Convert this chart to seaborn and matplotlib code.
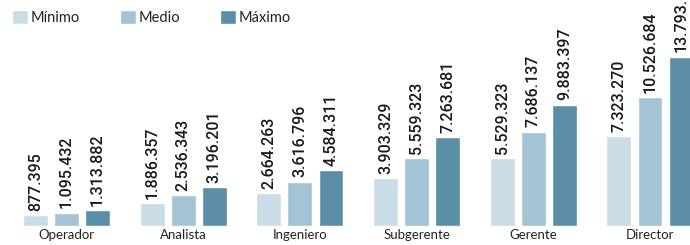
import numpy as np
import pandas as pd
import matplotlib.pyplot as plt
import seaborn as sns

puestos = ['Operador', 'Analista', 'Ingeniero', 'Subgerente', 'Gerente', 'Director']
niveles = ['Mínimo', 'Medio', 'Máximo']
minimo = [877395, 1886357, 2664263, 3903329, 5529323, 7323270]
medio = [1095432, 2536343, 3616796, 5559323, 7686137, 10526684]
maximo = [1313882, 3196201, 4584311, 7263681, 9883397, 13793530]
colores = ['#cadde7', '#a4c3d4', '#5b8fa8']

df = pd.DataFrame({
    'puesto': puestos * 3,
    'nivel': np.repeat(niveles, len(puestos)),
    'valor': minimo + medio + maximo,
})


def fmt(v):
    # separador de miles con punto
    return f'{int(round(v)):,}'.replace(',', '.')


sns.set_style('white')
plt.rcParams['font.family'] = ['Lato', 'DejaVu Sans']

fig = plt.figure(figsize=(6.9, 2.45), dpi=100)
ax = fig.add_axes([0, 19 / 245, 1, 226 / 245])
sns.barplot(data=df, x='puesto', y='valor', hue='nivel', palette=colores,
            width=0.8, gap=0.2, saturation=1, ax=ax)

for cont in ax.containers:
    ax.bar_label(cont, labels=[fmt(v) for v in cont.datavalues], rotation=90,
                 padding=3, fontsize=11.5, color='#1a1a1a',
                 family=['Roboto', 'DejaVu Sans'], fontweight='medium')

ax.set_xlim(-0.57, 5.343)
ax.set_ylim(0, 18.4e6)
ax.set(xlabel='', ylabel='')
ax.set_yticks([])
sns.despine(ax=ax, left=True, bottom=True)
ax.tick_params(axis='x', length=0, pad=2, labelsize=9.5, labelcolor='#222222')

ax.legend(loc='upper left', bbox_to_anchor=(12 / 690, 1 - 10 / 245),
          bbox_transform=fig.transFigure, ncol=3, frameon=False,
          fontsize=10.5, handlelength=1.1, handleheight=1.1,
          handletextpad=0.2, columnspacing=2.7, borderpad=0,
          borderaxespad=0, labelcolor='#222222')

fig.savefig('out.png', dpi=100)
